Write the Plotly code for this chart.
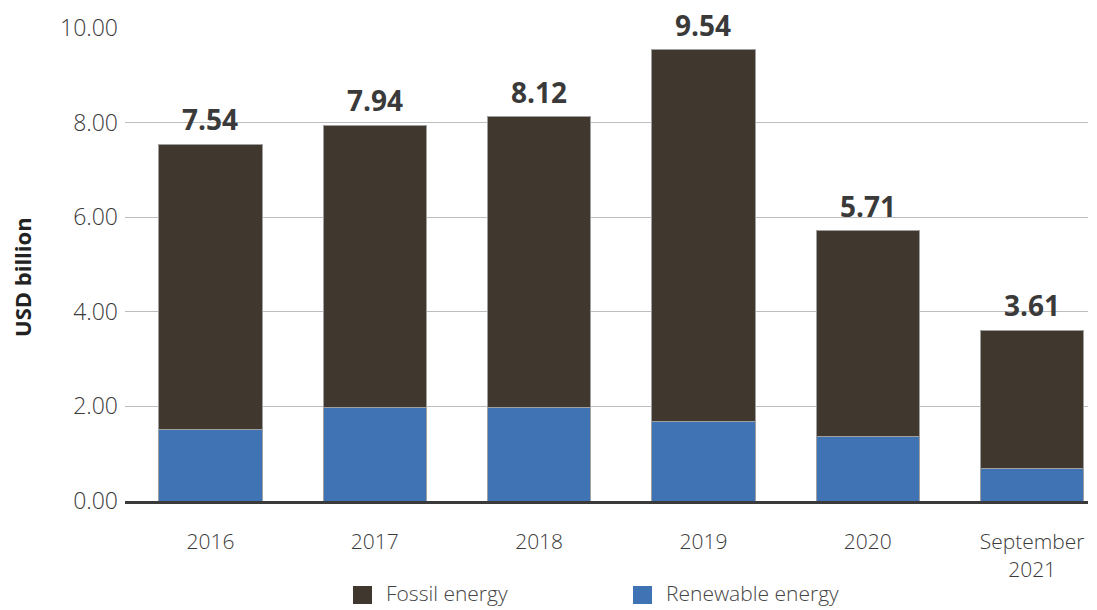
import plotly.graph_objects as go

# Categories and values (USD billion)
categories = ["2016", "2017", "2018", "2019", "2020", "September<br>2021"]
totals = [7.54, 7.94, 8.12, 9.54, 5.71, 3.61]
renewable = [1.52, 1.98, 1.98, 1.69, 1.37, 0.68]
fossil = [round(t - r, 2) for t, r in zip(totals, renewable)]
y_ticks = [0, 2, 4, 6, 8, 10]

FONT = "Open Sans"
TEXT = "#3a3a3a"
FOSSIL = "#40382e"
RENEW = "#4073b4"

# Plot area in pixels, used for the legend placed beneath the axis
W, H = 1097, 610
L, R, T, B = 125, 9, 28, 109
PW, PH = W - L - R, H - T - B


def px(xp):
    return (xp - L) / PW


def py(yp):
    return (H - B - yp) / PH


fig = go.Figure()
fig.add_trace(go.Bar(
    x=categories, y=renewable, name="Renewable energy",
    marker=dict(color=RENEW, line=dict(color="#a0a0a0", width=1)),
    width=0.63, hoverinfo="skip", showlegend=False,
))
fig.add_trace(go.Bar(
    x=categories, y=fossil, name="Fossil energy",
    marker=dict(color=FOSSIL, line=dict(color="#a0a0a0", width=1)),
    width=0.63, hoverinfo="skip", showlegend=False,
))

annotations = []
# Total labels above each stack (category index keeps year names categorical)
for i, t in enumerate(totals):
    annotations.append(dict(
        x=i, y=t, xref="x", yref="y", text=f"{t:.2f}", showarrow=False,
        yanchor="bottom", yshift=4,
        font=dict(family=FONT, size=28, color=TEXT, weight="bold"),
    ))

# Axis title
annotations.append(dict(
    x=px(22), y=py(277), xref="paper", yref="paper", text="USD billion",
    textangle=-90, showarrow=False, xanchor="center", yanchor="middle",
    font=dict(family=FONT, size=22, color="#222222", weight="bold"),
))

# Legend entries
legend_items = [("Fossil energy", FOSSIL, 353), ("Renewable energy", RENEW, 633)]
shapes = []
for name, color, x0 in legend_items:
    shapes.append(dict(
        type="rect", xref="paper", yref="paper",
        x0=px(x0), x1=px(x0 + 19), y0=py(604), y1=py(586),
        fillcolor=color, line=dict(width=0),
    ))
    annotations.append(dict(
        x=px(x0 + 32), y=py(593), xref="paper", yref="paper", text=name,
        showarrow=False, xanchor="left", yanchor="middle", borderpad=0,
        font=dict(family=FONT, size=21, color="#444444", weight=300),
    ))

fig.update_layout(
    width=W, height=H,
    barmode="stack",
    plot_bgcolor="white", paper_bgcolor="white",
    margin=dict(l=L, r=R, t=T, b=B, autoexpand=False),
    font=dict(family=FONT, color=TEXT),
    showlegend=False,
    annotations=annotations,
    shapes=shapes,
    xaxis=dict(
        range=[-0.52, 5.34],
        showgrid=False, ticks="",
        tickfont=dict(family=FONT, size=21, color=TEXT, weight=300),
        ticklabelstandoff=20,
        showline=True, linecolor="#3a3a3a", linewidth=3,
        layer="above traces",
    ),
    yaxis=dict(
        range=[0, 10], tickvals=y_ticks,
        ticktext=[f"{v:.2f}" for v in y_ticks],
        tickfont=dict(family=FONT, size=23, color=TEXT, weight=300),
        showgrid=True, gridcolor="#bdbdbd", gridwidth=1,
        zeroline=False, ticks="", ticklabelstandoff=6,
    ),
    bargap=0.37,
)

fig.write_html("out.html")
